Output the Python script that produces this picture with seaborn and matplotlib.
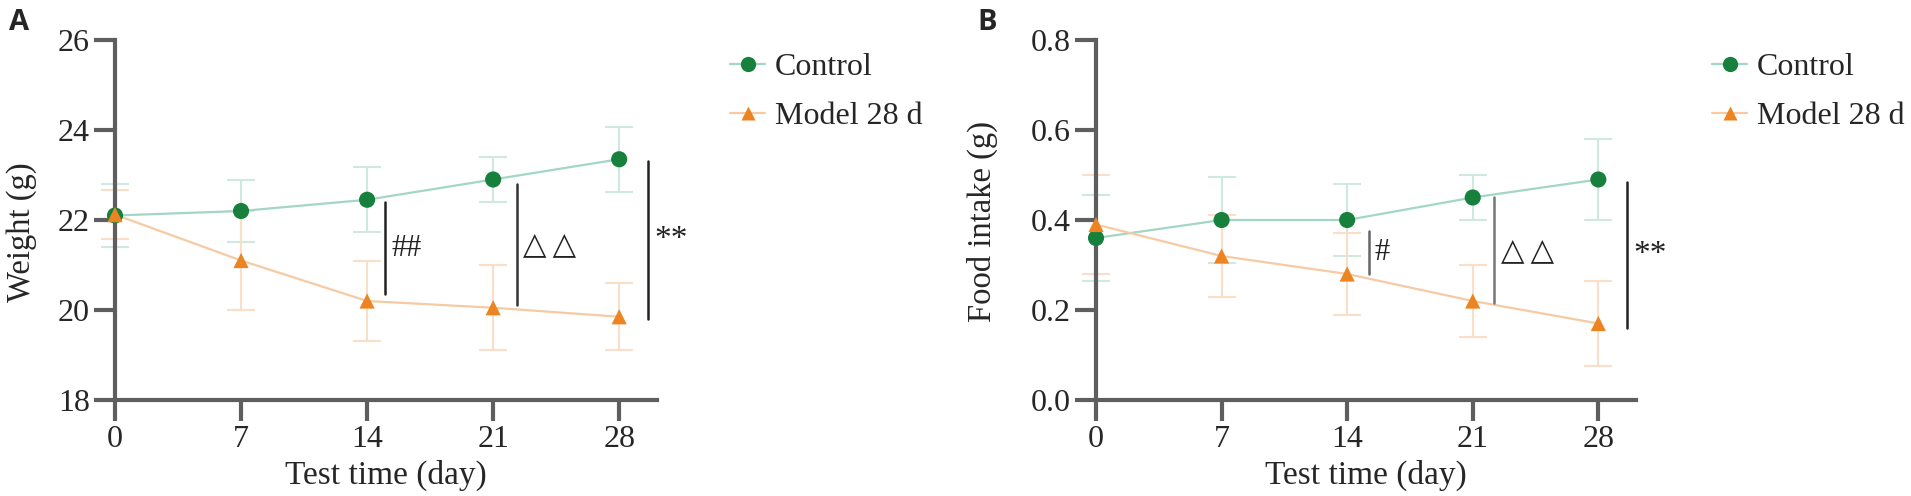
import numpy as np
import pandas as pd
import seaborn as sns
import matplotlib.pyplot as plt
from matplotlib.lines import Line2D

days = [0, 7, 14, 21, 28]
groups = ['Control', 'Model 28 d']

# panel A - body weight (g)
weight_ctrl = [22.1, 22.2, 22.45, 22.9, 23.35]
weight_ctrl_sd = [0.7, 0.68, 0.72, 0.5, 0.72]
weight_model = [22.12, 21.1, 20.2, 20.05, 19.85]
weight_model_sd = [0.55, 1.1, 0.88, 0.95, 0.75]

# panel B - food intake (g)
food_ctrl = [0.36, 0.40, 0.40, 0.45, 0.49]
food_ctrl_sd = [0.095, 0.095, 0.08, 0.05, 0.09]
food_model = [0.39, 0.32, 0.28, 0.22, 0.17]
food_model_sd = [0.11, 0.09, 0.09, 0.08, 0.095]

# significance bars: (x, y0, y1, label, colour)
sig_a = [(15.0, 20.35, 22.4, '##', '#222222'),
         (22.3, 20.1, 22.8, '\u25b3\u2009\u25b3', '#333333'),
         (29.6, 19.8, 23.3, '**', '#222222')]
sig_b = [(15.2, 0.28, 0.375, '#', '#666666'),
         (22.2, 0.215, 0.45, '\u25b3\u2009\u25b3', '#777777'),
         (29.6, 0.16, 0.485, '**', '#222222')]

sns.set_style('ticks')
plt.rcParams['font.family'] = ['Liberation Serif', 'DejaVu Sans']

marker_col = {'Control': '#17803d', 'Model 28 d': '#ec8422'}
line_col = {'Control': '#a3d6c4', 'Model 28 d': '#f6cba3'}
err_col = {'Control': '#cfe9df', 'Model 28 d': '#f9dfc8'}
markers = {'Control': 'o', 'Model 28 d': '^'}
sizes = {'Control': 135, 'Model 28 d': 120}
axis_grey = '#5e5e5e'

fig = plt.figure(figsize=(19.11, 4.96), dpi=100)
ax_a = fig.add_axes([115 / 1911, 96 / 496, 542 / 1911, 360 / 496])
ax_b = fig.add_axes([1096 / 1911, 96 / 496, 540 / 1911, 360 / 496])


def draw_panel(ax, ctrl, ctrl_sd, model, model_sd, ylim, yticks, ylabel, sigs,
               label_fmt, ylab_pos):
    df = pd.DataFrame({
        'day': days * 2,
        'value': ctrl + model,
        'sd': ctrl_sd + model_sd,
        'group': [groups[0]] * 5 + [groups[1]] * 5,
    })
    for g in groups:
        sub = df[df['group'] == g]
        ax.errorbar(sub['day'], sub['value'], yerr=sub['sd'], fmt='none',
                    ecolor=err_col[g], elinewidth=1.5, capsize=10, capthick=1.5,
                    zorder=1, clip_on=False)
        sns.lineplot(data=sub, x='day', y='value', ax=ax, color=line_col[g],
                     linewidth=1.6, zorder=2, legend=False)
        sns.scatterplot(data=sub, x='day', y='value', ax=ax, color=marker_col[g],
                        marker=markers[g], s=sizes[g],
                        edgecolor='none', zorder=3, legend=False, clip_on=False)
    for ln in ax.lines:
        ln.set_clip_on(False)

    for x, y0, y1, txt, col in sigs:
        ax.plot([x, x], [y0, y1], color=col, linewidth=1.8, clip_on=False)
        fam = ['DejaVu Sans'] if '\u25b3' in txt else ['Liberation Serif', 'DejaVu Sans']
        ax.text(x + 0.35, (y0 + y1) / 2, txt, fontsize=22 if '*' not in txt else 24,
                va='center', ha='left', color='#222222', family=fam)

    ax.set_xlim(0, 30.1)
    ax.set_ylim(*ylim)
    ax.set_xticks(days)
    ax.set_yticks(yticks)
    ax.set_yticklabels([label_fmt.format(t) for t in yticks])
    ax.set_xlabel('Test time (day)', fontsize=24, labelpad=4)
    ax.set_ylabel(ylabel, fontsize=23.5, va='center')
    ax.yaxis.set_label_coords(*ylab_pos)
    sns.despine(ax=ax)
    for s in ['left', 'bottom']:
        ax.spines[s].set_linewidth(3)
        ax.spines[s].set_color(axis_grey)
    ax.tick_params(axis='both', direction='out', length=15, width=3, color=axis_grey,
                   labelsize=23, pad=3, bottom=True, left=True)


draw_panel(ax_a, weight_ctrl, weight_ctrl_sd, weight_model, weight_model_sd,
           (18, 26), [18, 20, 22, 24, 26], 'Weight (g)', sig_a, '{:.0f}',
           (-0.172, 0.467))
draw_panel(ax_b, food_ctrl, food_ctrl_sd, food_model, food_model_sd,
           (0, 0.8), [0.0, 0.2, 0.4, 0.6, 0.8], 'Food intake (g)', sig_b, '{:.1f}',
           (-0.211, 0.497))

handles = [Line2D([], [], color=line_col[g], linewidth=1.6, marker=markers[g],
                  markersize=11 if g == 'Control' else 10,
                  markerfacecolor=marker_col[g], markeredgecolor='none')
           for g in groups]
for x0 in [730 / 1911, 1712 / 1911]:
    fig.legend(handles, groups, loc='upper left', bbox_to_anchor=(x0, 0.893),
               frameon=False, fontsize=23, handlelength=1.1, handletextpad=0.3,
               labelspacing=0.6, borderpad=0, borderaxespad=0)

fig.text(9 / 1911, 1 - 22 / 496, 'A', fontsize=21, fontweight='bold',
         family='Open Sans', va='center', ha='left')
fig.text(977 / 1911, 1 - 22 / 496, 'B', fontsize=21, fontweight='bold',
         family='Open Sans', va='center', ha='left')

fig.savefig('out.png', dpi=100)
